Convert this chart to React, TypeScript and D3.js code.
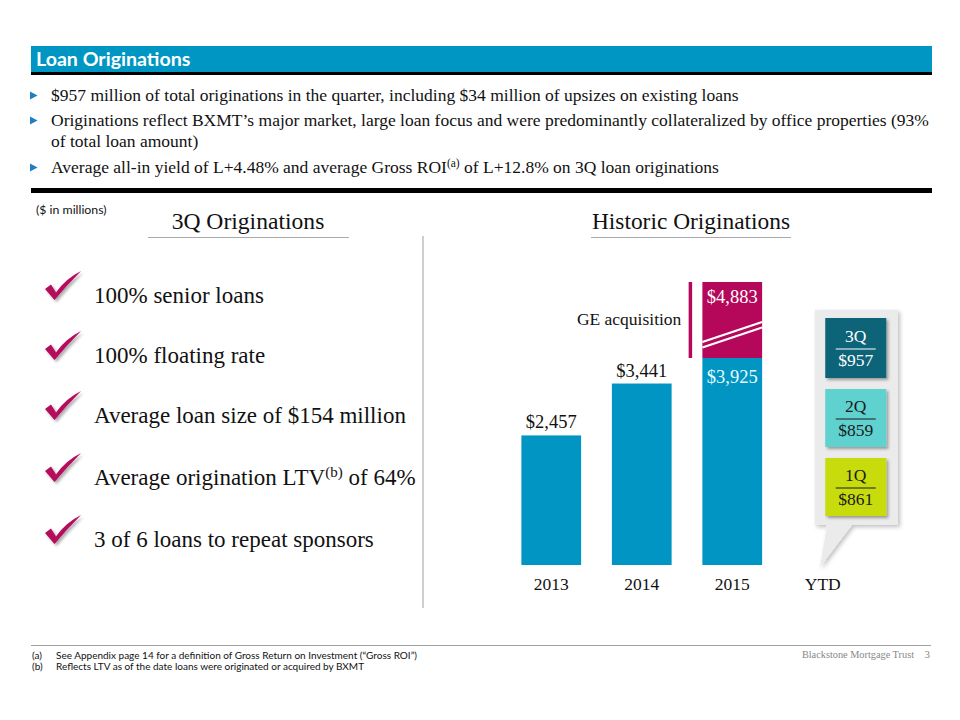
import React from "react";
import * as d3 from "d3";

// ---------- data ----------
const years = ["2013", "2014", "2015"];
const baseValues = [2457, 3441, 3925];
const geValues = [0, 0, 958]; // GE acquisition add-on (2015 total = 4,883)
const ytdLabel = "YTD";
const ytdQuarters = ["3Q", "2Q", "1Q"];
const ytdValues = [957, 859, 861];
const ytdColors = ["#0b6478", "#5fd2cf", "#c8dc0c"];
const ytdTextColors = ["#ffffff", "#1a1a1a", "#1a1a1a"];

const bulletLines: string[][] = [
  ["$957 million of total originations in the quarter, including $34 million of upsizes on existing loans"],
  ["Originations reflect BXMT\u2019s major market, large loan focus and were predominantly collateralized by office properties (93%", "of total loan amount)"],
  ["Average all-in yield of L+4.48% and average Gross ROI", "(a)", " of L+12.8% on 3Q loan originations"],
];
const checkItems = [
  ["100% senior loans"],
  ["100% floating rate"],
  ["Average loan size of $154 million"],
  ["Average origination LTV", "(b)", " of 64%"],
  ["3 of 6 loans to repeat sponsors"],
];
const footnotes = [
  ["(a)", "See Appendix page 14 for a definition of Gross Return on Investment (\u201cGross ROI\u201d)"],
  ["(b)", "Reflects LTV as of the date loans were originated or acquired by BXMT"],
];

const SERIF = "'Liberation Serif', 'DejaVu Serif', serif";
const SANS = "Lato, 'Liberation Sans', sans-serif";
const BLUE = "#0095c2";
const MAGENTA = "#b5085b";

const fmt = (v: number) => "$" + d3.format(",")(v);

export default function App() {
  const W = 960, H = 720;
  const plotBottom = 565;
  const x = d3.scaleBand<string>()
    .domain([...years, ytdLabel])
    .range([506, 868])
    .paddingInner(0.34)
    .paddingOuter(0.17);
  const totals = baseValues.map((v, i) => v + geValues[i]);
  const maxBase = d3.max(baseValues) as number;
  const maxTotal = d3.max(totals) as number;
  // axis is broken above the base series (GE segment not to scale)
  const y = d3.scaleLinear()
    .domain([0, maxBase, maxTotal])
    .range([plotBottom, plotBottom - 207, plotBottom - 283]);

  const bw = x.bandwidth();
  const checkPath = "M0,-7 L6,-11.5 L11,-3.5 Q20,-17 36,-25 Q22,-11 9.5,4 Z";
  const rowCenters = [296, 356, 416, 478, 540];

  // YTD callout
  const ytdCx = (x(ytdLabel) as number) + bw / 2;
  const boxW = 61, boxH = 58, boxGap = 11, boxTop = 318;

  return (
    <svg width={W} height={H} viewBox={`0 0 ${W} ${H}`} style={{ position: "absolute", left: 0, top: 0, background: "#fff" }}>
      <defs>
        <filter id="sh" x="-20%" y="-20%" width="150%" height="150%">
          <feDropShadow dx="2" dy="2" stdDeviation="1.5" floodColor="#000" floodOpacity="0.35" />
        </filter>
        <filter id="sh2" x="-20%" y="-20%" width="150%" height="150%">
          <feDropShadow dx="2" dy="2" stdDeviation="2" floodColor="#000" floodOpacity="0.25" />
        </filter>
      </defs>

      {/* header */}
      <rect x={31} y={46} width={901} height={26} fill="#0096c3" />
      <rect x={31} y={72} width={901} height={3} fill="#000" />
      <text x={36} y={66} fill="#fff" fontFamily={SANS} fontWeight={700} fontSize={19.6}>Loan Originations</text>

      {/* bullets */}
      {(() => {
        const baselines = [[101], [126, 147], [173]];
        return bulletLines.map((parts, i) => (
          <g key={i}>
            <path d={`M30,${baselines[i][0] - 9.5} L37.5,${baselines[i][0] - 5.5} L30,${baselines[i][0] - 1.5} Z`} fill="#1d7fc0" />
            {i === 1 ? (
              parts.map((ln, j) => (
                <text key={j} x={51} y={baselines[i][j]} fontFamily={SERIF} fontSize={17.5} fill="#111">{ln}</text>
              ))
            ) : (
              <text x={51} y={baselines[i][0]} fontFamily={SERIF} fontSize={17.5} fill="#111">
                {parts.map((p, j) =>
                  p.startsWith("(") && p.length === 3 ? (
                    <tspan key={j} fontSize={11.5} dy={-6}>{p}</tspan>
                  ) : (
                    <tspan key={j} dy={j > 0 && parts[j - 1].length === 3 && parts[j - 1].startsWith("(") ? 6 : 0}>{p}</tspan>
                  )
                )}
              </text>
            )}
          </g>
        ));
      })()}
      <rect x={31} y={188} width={901} height={5} fill="#000" />

      <text x={36} y={214} fontFamily={SANS} fontSize={12.3} fill="#111">($ in millions)</text>

      {/* section headings */}
      <text x={248} y={229} textAnchor="middle" fontFamily={SERIF} fontSize={23.6} fill="#111">3Q Originations</text>
      <line x1={148} x2={349} y1={237.5} y2={237.5} stroke="#aaa" strokeWidth={1.2} />
      <text x={691} y={229} textAnchor="middle" fontFamily={SERIF} fontSize={23.4} fill="#111">Historic Originations</text>
      <line x1={591} x2={791} y1={237.5} y2={237.5} stroke="#aaa" strokeWidth={1.2} />

      {/* vertical divider */}
      <line x1={423} x2={423} y1={236} y2={608} stroke="#cfcfcf" strokeWidth={2} />

      {/* check list */}
      {checkItems.map((parts, i) => (
        <g key={i}>
          <path d={checkPath} transform={`translate(45,${rowCenters[i]})`} fill={MAGENTA} filter="url(#sh)" />
          <text x={94} y={rowCenters[i] + 7} fontFamily={SERIF} fontSize={23} fill="#111">
            {parts.map((p, j) =>
              p === "(b)" ? (
                <tspan key={j} fontSize={15} dy={-8}>{p}</tspan>
              ) : (
                <tspan key={j} dy={j > 0 && parts[j - 1] === "(b)" ? 8 : 0}>{p}</tspan>
              )
            )}
          </text>
        </g>
      ))}

      {/* bars */}
      {years.map((yr, i) => {
        const x0 = x(yr) as number;
        const yBase = y(baseValues[i]);
        const hasGE = geValues[i] > 0;
        const yTop = y(totals[i]);
        return (
          <g key={yr}>
            <rect x={x0} y={yBase} width={bw} height={plotBottom - yBase} fill={BLUE} />
            {hasGE && (
              <g>
                <rect x={x0} y={yTop} width={bw} height={yBase - yTop} fill={MAGENTA} />
                <line x1={x0} x2={x0 + bw} y1={yBase - 16} y2={yBase - 36} stroke="#fff" strokeWidth={2.2} />
                <line x1={x0} x2={x0 + bw} y1={yBase - 10.5} y2={yBase - 30.5} stroke="#fff" strokeWidth={2.2} />
                <text x={x0 + bw / 2} y={yTop + 21} textAnchor="middle" fontFamily={SERIF} fontSize={18.5} fill="#fff">{fmt(totals[i])}</text>
                <text x={x0 + bw / 2} y={yBase + 25} textAnchor="middle" fontFamily={SERIF} fontSize={18.5} fill="#e8fbff">{fmt(baseValues[i])}</text>
                <line x1={x0 - 12} x2={x0 - 12} y1={yTop} y2={yBase} stroke={MAGENTA} strokeWidth={3.5} />
                <text x={x0 - 21} y={yTop + 43} textAnchor="end" fontFamily={SERIF} fontSize={17.5} fill="#111">GE acquisition</text>
              </g>
            )}
            {!hasGE && (
              <text x={x0 + bw / 2} y={yBase - 7} textAnchor="middle" fontFamily={SERIF} fontSize={18.5} fill="#111">{fmt(baseValues[i])}</text>
            )}
            <text x={x0 + bw / 2} y={590} textAnchor="middle" fontFamily={SERIF} fontSize={17.5} fill="#111">{yr}</text>
          </g>
        );
      })}

      {/* YTD callout */}
      <g>
        <path
          d={`M815,310 L898,310 L898,525 L852,525 L820,567 L827,525 L815,525 Z`}
          fill="#ebebeb"
          filter="url(#sh2)"
        />
        {ytdQuarters.map((q, i) => {
          const top = boxTop + i * (boxH + boxGap) + (i === 0 ? 0 : 2);
          const h = i === 0 ? boxH + 2 : boxH;
          const cx = ytdCx + 33;
          return (
            <g key={q}>
              <rect x={cx - boxW / 2} y={top} width={boxW} height={h} fill={ytdColors[i]} filter="url(#sh)" />
              <text x={cx} y={top + h / 2 - 6} textAnchor="middle" fontFamily={SERIF} fontSize={17.5} fill={ytdTextColors[i]}>{q}</text>
              <line x1={cx - 20} x2={cx + 20} y1={top + h / 2 + 1} y2={top + h / 2 + 1} stroke={ytdTextColors[i]} strokeWidth={1.2} />
              <text x={cx} y={top + h / 2 + 18} textAnchor="middle" fontFamily={SERIF} fontSize={17.5} fill={ytdTextColors[i]}>{fmt(ytdValues[i])}</text>
            </g>
          );
        })}
        <text x={ytdCx} y={590} textAnchor="middle" fontFamily={SERIF} fontSize={17.5} fill="#111">{ytdLabel}</text>
      </g>

      {/* footer */}
      <line x1={31} x2={931} y1={645.5} y2={645.5} stroke="#a0a0a0" strokeWidth={1} />
      {footnotes.map((f, i) => (
        <g key={i}>
          <text x={32} y={659 + i * 11} fontFamily={SANS} fontSize={10} fill="#111">{f[0]}</text>
          <text x={56} y={659 + i * 11} fontFamily={SANS} fontSize={10} fill="#111">{f[1]}</text>
        </g>
      ))}
      <text x={914} y={658} textAnchor="end" fontFamily={SERIF} fontSize={10.3} fill="#888">Blackstone Mortgage Trust</text>
      <text x={930} y={658} textAnchor="end" fontFamily={SERIF} fontSize={11} fill="#888">3</text>
    </svg>
  );
}
